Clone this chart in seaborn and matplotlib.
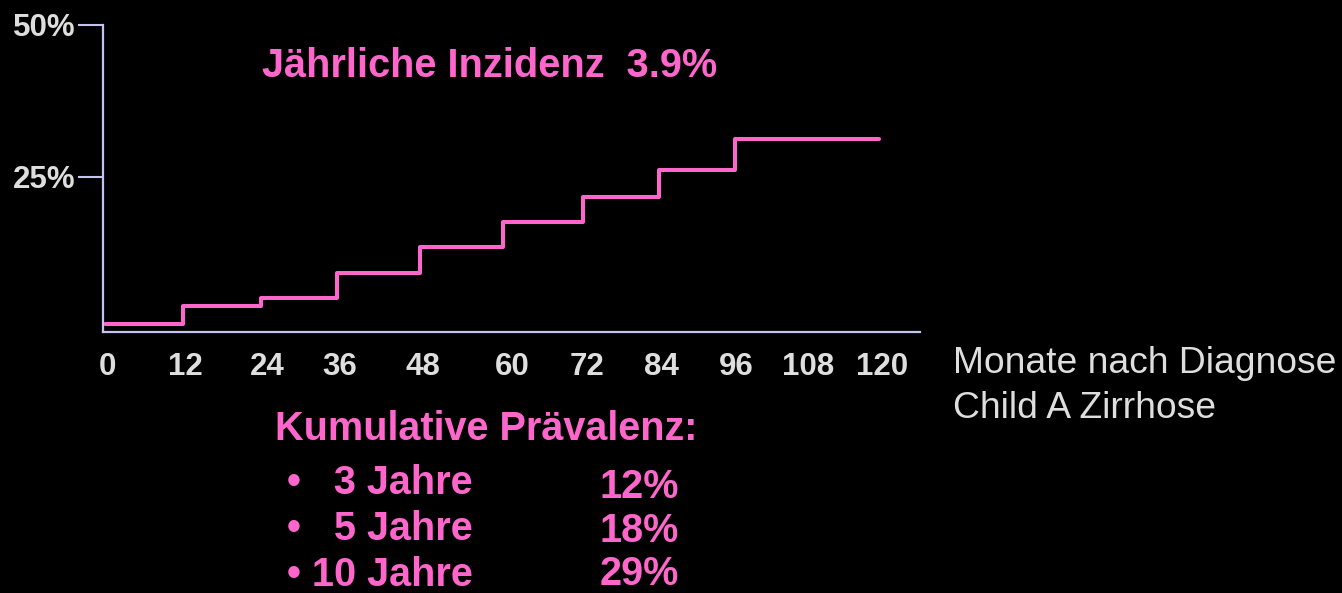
import matplotlib
matplotlib.use("Agg")
import matplotlib.pyplot as plt
import seaborn as sns
import pandas as pd

# ---- data ----
months = [0, 12.1, 24.2, 36.0, 48.8, 61.6, 74.0, 85.8, 97.6, 120]
incidence_pct = [0.7, 3.7, 5.0, 9.2, 13.4, 17.6, 21.7, 26.1, 31.2, 31.2]

tick_months = [0.3, 12.4, 25.1, 36.4, 49.3, 63.1, 74.7, 86.3, 97.8, 108.9, 120.4]
tick_labels = ["0", "12", "24", "36", "48", "60", "72", "84", "96", "108", "120"]
y_ticks = [25, 50]
y_tick_labels = ["25%", "50%"]

title_text = "Jährliche Inzidenz  3.9%"
prev_header = "Kumulative Prävalenz:"
prev_years = ["•   3 Jahre", "•   5 Jahre", "• 10 Jahre"]
prev_values = ["12%", "18%", "29%"]
x_caption = ["Monate nach Diagnose", "Child A Zirrhose"]

# ---- styling ----
PINK = "#FF66CC"
GREY = "#DEDEDE"
AXIS = "#C4C4F0"

sns.set_theme(style="ticks", rc={
    "figure.facecolor": "black",
    "axes.facecolor": "black",
    "savefig.facecolor": "black",
})
plt.rcParams["font.family"] = ["Liberation Sans", "DejaVu Sans"]

W, H = 1342, 593
fig = plt.figure(figsize=(W / 100, H / 100), dpi=100)
ax = fig.add_axes([102.7 / W, 1 - 332.3 / H, (920 - 102.7) / W, (332.3 - 24.7) / H])

df = pd.DataFrame({"month": months, "pct": incidence_pct})
sns.lineplot(data=df, x="month", y="pct", ax=ax, color=PINK, linewidth=2.9,
             drawstyle="steps-post", estimator=None, sort=True)

ax.set_xlim(-0.36, 126.3)
ax.set_ylim(-0.59, 50)
ax.set_xlabel("")
ax.set_ylabel("")

for s in ["top", "right"]:
    ax.spines[s].set_visible(False)
for s in ["left", "bottom"]:
    ax.spines[s].set_color(AXIS)
    ax.spines[s].set_linewidth(1.6)

ax.set_yticks(y_ticks)
ax.set_yticklabels(y_tick_labels)
ax.tick_params(axis="y", direction="out", length=18, width=1.5, color=AXIS,
               pad=1.5, labelsize=22.5, labelcolor=GREY)
for t in ax.get_yticklabels():
    t.set_fontweight("bold")

ax.set_xticks(tick_months)
ax.set_xticklabels(tick_labels)
ax.tick_params(axis="x", length=0, pad=14, labelsize=22.5, labelcolor=GREY)
for t in ax.get_xticklabels():
    t.set_fontweight("bold")

def fy(py):
    return 1 - py / H

fig.text(262 / W, fy(77.3), title_text, color=PINK, fontsize=28.6,
         fontweight="bold", ha="left", va="baseline")
fig.text(275 / W, fy(440), prev_header, color=PINK, fontsize=28.5,
         fontweight="bold", ha="left", va="baseline")

year_baselines = [494, 540, 586]
val_baselines = [498, 542, 585]
for lab, val, yb, vb in zip(prev_years, prev_values, year_baselines, val_baselines):
    fig.text(287 / W, fy(yb), lab, color=PINK, fontsize=28.5,
             fontweight="bold", ha="left", va="baseline")
    fig.text(679 / W, fy(vb), val, color=PINK, fontsize=28.5,
             fontweight="bold", ha="right", va="baseline")

fig.text(953 / W, fy(373.3), x_caption[0], color=GREY, fontsize=26.8,
         ha="left", va="baseline")
fig.text(953 / W, fy(418.3), x_caption[1], color=GREY, fontsize=26.8,
         ha="left", va="baseline")

fig.savefig("out.png", dpi=100, facecolor="black")
